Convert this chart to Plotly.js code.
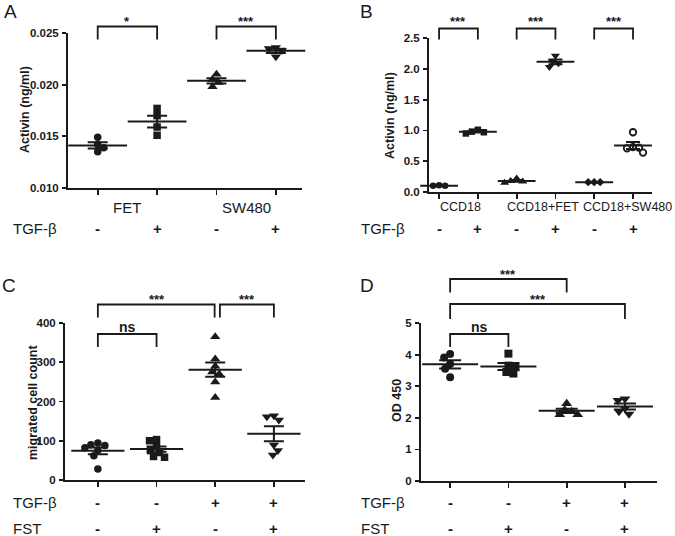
<!DOCTYPE html>
<html><head><meta charset="utf-8">
<script src="https://cdn.plot.ly/plotly-3.0.1.min.js"></script>
<style>html,body{margin:0;padding:0;background:#fff}#chart{width:675px;height:536px}</style>
</head><body><div id="chart"></div>
<script>
// ---------- Panel A ----------
const aCategories = ['FET', 'SW480'];
const aTGF = ['-', '+', '-', '+'];
const aFetMinus = [0.0149, 0.0142, 0.0139, 0.0135];
const aFetPlus = [0.0177, 0.0170, 0.0159, 0.0151];
const aSwMinus = [0.0210, 0.0205, 0.0202, 0.0198];
const aSwPlus = [0.0236, 0.0235, 0.0233, 0.0227];
const aSig = ['*', '***'];
const aYTicks = [0.010, 0.015, 0.020, 0.025];
const aYTitle = 'Activin (ng/ml)';

// ---------- Panel B ----------
const bCategories = ['CCD18', 'CCD18+FET', 'CCD18+SW480'];
const bTGF = ['-', '+', '-', '+', '-', '+'];
const bCcdMinus = [0.11, 0.10, 0.10, 0.09];
const bCcdPlus = [1.01, 0.98, 0.97, 0.95];
const bFetMinus = [0.22, 0.18, 0.17, 0.15];
const bFetPlus = [2.21, 2.12, 2.09, 2.03];
const bSwMinus = [0.16, 0.16, 0.16];
const bSwPlus = [0.97, 0.73, 0.72, 0.71, 0.64];
const bSig = ['***', '***', '***'];
const bYTicks = [0, 0.5, 1.0, 1.5, 2.0, 2.5];
const bYTitle = 'Activin (ng/ml)';

// ---------- Panel C ----------
const cTGF = ['-', '-', '+', '+'];
const cFST = ['-', '+', '-', '+'];
const cCtrl = [94, 90, 88, 82, 76, 62, 28];
const cFst = [103, 100, 85, 75, 70, 60, 58];
const cTgf = [365, 308, 290, 275, 270, 250, 210];
const cTgfFst = [164, 161, 153, 89, 75, 64];
const cSig = ['***', '***', 'ns'];
const cYTicks = [0, 100, 200, 300, 400];
const cYTitle = 'migrated cell count';

// ---------- Panel D ----------
const dTGF = ['-', '-', '+', '+'];
const dFST = ['-', '+', '-', '+'];
const dCtrl = [4.02, 3.91, 3.70, 3.55, 3.28];
const dFst = [4.03, 3.65, 3.60, 3.45, 3.40];
const dTgf = [2.45, 2.25, 2.20, 2.10, 2.10];
const dTgfFst = [2.60, 2.55, 2.30, 2.20, 2.12];
const dSig = ['***', '***', 'ns'];
const dYTicks = [0, 1, 2, 3, 4, 5];
const dYTitle = 'OD 450';

// ---------- helpers ----------
const W = 675, H = 536;
const INK = '#1a1a1a';
const FONT = 'Arial, "Liberation Sans", Helvetica, sans-serif';
const PX = p => p / W;
const PY = p => 1 - p / H;
const B = t => '<b>' + t + '</b>';

function mean(a) { return a.reduce((s, v) => s + v, 0) / a.length; }
function sem(a) {
  const m = mean(a);
  const sd = Math.sqrt(a.reduce((s, v) => s + (v - m) * (v - m), 0) / (a.length - 1));
  return sd / Math.sqrt(a.length);
}
// simple beeswarm: horizontal offsets (in category units) avoiding heavy overlap
function swarm(vals, pxPerY, pxPerX, d) {
  const placed = [];
  return vals.map(v => {
    const y = v * pxPerY;
    for (let k = 0; k < 60; k++) {
      const cands = k === 0 ? [0] : (placed.length % 2 ? [-k, k] : [k, -k]);
      for (const x of cands) {
        if (placed.every(p => Math.hypot(p.x - x, p.y - y) >= d)) {
          placed.push({x, y});
          return x / pxPerX;
        }
      }
    }
    return 0;
  });
}

const panels = [
  {box: {l: 68, r: 302, t: 33, b: 188}, xr: [-0.5, 3.44], yr: [0.010, 0.025], yticks: aYTicks, fmt: v => v.toFixed(3),
   groups: [aFetMinus, aFetPlus, aSwMinus, aSwPlus], symbols: ['circle', 'square', 'triangle-up', 'triangle-down'],
   msize: 7.5, meanW: 42, capW: 10, sep: 6.5},
  {box: {l: 429, r: 652, t: 38, b: 192}, xr: [-0.26, 5.49], yr: [0, 2.5], yticks: bYTicks, fmt: v => v.toFixed(1),
   groups: [bCcdMinus, bCcdPlus, bFetMinus, bFetPlus, bSwMinus, bSwPlus],
   symbols: ['circle', 'square', 'triangle-up', 'triangle-down', 'diamond', 'circle-open'],
   msize: 6.5, meanW: 27, capW: 7, sep: 6},
  {box: {l: 65, r: 305, t: 323, b: 480}, xr: [-0.56, 3.53], yr: [0, 400], yticks: cYTicks, fmt: v => String(v),
   groups: [cCtrl, cFst, cTgf, cTgfFst], symbols: ['circle', 'square', 'triangle-up', 'triangle-down'],
   msize: 7.5, meanW: 38, capW: 10, sep: 6.5},
  {box: {l: 421, r: 657, t: 323, b: 481}, xr: [-0.5, 3.55], yr: [0, 5], yticks: dYTicks, fmt: v => String(v),
   groups: [dCtrl, dFst, dTgf, dTgfFst], symbols: ['circle', 'square', 'triangle-up', 'triangle-down'],
   msize: 8, meanW: 40, capW: 11, sep: 6.5}
];

const traces = [];
const layout = {
  width: W, height: H, margin: {l: 0, r: 0, t: 0, b: 0},
  paper_bgcolor: '#fff', plot_bgcolor: '#fff', showlegend: false,
  font: {family: FONT, color: INK}, annotations: [], shapes: []
};

panels.forEach((p, i) => {
  const s = i === 0 ? '' : String(i + 1);
  const pxX = (p.box.r - p.box.l) / (p.xr[1] - p.xr[0]);
  const pxY = (p.box.b - p.box.t) / (p.yr[1] - p.yr[0]);
  p.groups.forEach((vals, g) => {
    const offs = swarm(vals, pxY, pxX, p.sep);
    const open = p.symbols[g].endsWith('open');
    traces.push({
      type: 'scatter', mode: 'markers', xaxis: 'x' + s, yaxis: 'y' + s,
      x: offs.map(o => g + o), y: vals, cliponaxis: false, hoverinfo: 'y',
      marker: {symbol: p.symbols[g], size: p.symbols[g].startsWith('triangle') ? p.msize + 1.5 : p.msize,
               color: INK, line: {width: open ? 1.8 : 0, color: INK}}
    });
  });
  traces.push({
    type: 'scatter', mode: 'markers', xaxis: 'x' + s, yaxis: 'y' + s, cliponaxis: false,
    x: p.groups.map((_, g) => g), y: p.groups.map(mean), hoverinfo: 'y',
    marker: {symbol: 'line-ew', size: p.meanW, color: INK, line: {width: 2, color: INK}},
    error_y: {type: 'data', array: p.groups.map(sem), visible: true, width: p.capW, thickness: 2, color: INK}
  });
  layout['xaxis' + s] = {
    domain: [PX(p.box.l), PX(p.box.r)], range: p.xr, anchor: 'y' + s,
    showline: true, linecolor: INK, linewidth: 2, ticks: 'outside', ticklen: 5, tickwidth: 1.8, tickcolor: INK,
    tickvals: p.groups.map((_, g) => g), ticktext: p.groups.map(() => ''),
    showgrid: false, zeroline: false, fixedrange: true
  };
  layout['yaxis' + s] = {
    domain: [PY(p.box.b), PY(p.box.t)], range: p.yr, anchor: 'x' + s,
    showline: true, linecolor: INK, linewidth: 2, ticks: 'outside', ticklen: 4, tickwidth: 1.8, tickcolor: INK,
    tickvals: p.yticks, ticktext: p.yticks.map(v => B(p.fmt(v))), ticklabelstandoff: 1,
    tickfont: {size: 11.5, family: FONT, color: INK},
    showgrid: false, zeroline: false, fixedrange: true
  };
});

const ann = layout.annotations, shp = layout.shapes;
function txt(text, x, y, opts) {
  ann.push(Object.assign({text, x, y, xref: 'paper', yref: 'paper', showarrow: false,
    xanchor: 'center', yanchor: 'middle', font: {size: 15, family: FONT, color: INK}}, opts || {}));
}
function dat(text, xref, x, y, font) {
  ann.push({text, x, xref, y: PY(y), yref: 'paper', showarrow: false, xanchor: 'center', yanchor: 'middle', font});
}
function bracket(xref, x0, x1, yTop, yLeg) {
  shp.push({type: 'path', xref, yref: 'paper',
    path: `M${x0},${PY(yLeg)} L${x0},${PY(yTop)} L${x1},${PY(yTop)} L${x1},${PY(yLeg)}`,
    line: {color: INK, width: 1.8}});
}
const starFont = {size: 13, family: FONT, color: INK};
const nsFont = {size: 14, family: FONT, color: INK};
const signFont = {size: 15, family: FONT, color: INK};
const catFont = {size: 15, family: FONT, color: INK};

// panel letters
txt('A', PX(10), PY(12), {font: {size: 19, family: FONT, color: INK}});
txt('B', PX(366), PY(12), {font: {size: 19, family: FONT, color: INK}});
txt('C', PX(9), PY(285), {font: {size: 19, family: FONT, color: INK}});
txt('D', PX(367), PY(285), {font: {size: 19, family: FONT, color: INK}});

// y titles
[[aYTitle, 25, 110], [bYTitle, 390, 115], [cYTitle, 33, 403], [dYTitle, 397, 401]].forEach(([t, x, y]) =>
  txt(B(t), PX(x), PY(y), {textangle: -90, font: {size: 12.5, family: FONT, color: INK}}));

// Panel A labels
aCategories.forEach((c, k) => dat(c, 'x', 2 * k + 0.5, 207, catFont));
aTGF.forEach((sg, k) => dat(B(sg), 'x', k, 228, signFont));
txt('TGF-β', PX(11), PY(228), {xanchor: 'left'});
aSig.forEach((sg, k) => {
  bracket('x', 2 * k, 2 * k + 1, 26.5, 39.5);
  dat(B(sg), 'x', 2 * k + 0.5, 21, starFont);
});

// Panel B labels
const bLabelX = [0.54, 2.68, 4.86];
bCategories.forEach((c, k) => dat(c, 'x2', bLabelX[k], 207, {size: 12.5, family: FONT, color: INK}));
bTGF.forEach((sg, k) => dat(B(sg), 'x2', k, 228, signFont));
txt('TGF-β', PX(359), PY(228), {xanchor: 'left'});
bSig.forEach((sg, k) => {
  bracket('x2', 2 * k, 2 * k + 1, 28.5, 39.5);
  dat(B(sg), 'x2', 2 * k + 0.5, 21, starFont);
});

// Panel C labels
cTGF.forEach((sg, k) => dat(B(sg), 'x3', k, 502, signFont));
cFST.forEach((sg, k) => dat(B(sg), 'x3', k, 528, signFont));
txt('TGF-β', PX(11), PY(502), {xanchor: 'left'});
txt('FST', PX(11), PY(528), {xanchor: 'left'});
bracket('x3', 0, 1.99, 304.5, 317.5);
dat(B(cSig[0]), 'x3', 1, 299, starFont);
bracket('x3', 2.08, 3, 304.5, 317.5);
dat(B(cSig[1]), 'x3', 2.54, 299, starFont);
bracket('x3', 0, 1, 334, 347);
dat(B(cSig[2]), 'x3', 0.5, 327, nsFont);

// Panel D labels
dTGF.forEach((sg, k) => dat(B(sg), 'x4', k, 502, signFont));
dFST.forEach((sg, k) => dat(B(sg), 'x4', k, 528, signFont));
txt('TGF-β', PX(359), PY(502), {xanchor: 'left'});
txt('FST', PX(359), PY(528), {xanchor: 'left'});
bracket('x4', 0, 2, 279, 292.5);
dat(B(dSig[0]), 'x4', 1, 274, starFont);
bracket('x4', 0, 3, 304, 319);
dat(B(dSig[1]), 'x4', 1.5, 299, starFont);
bracket('x4', 0, 1, 334, 347);
dat(B(dSig[2]), 'x4', 0.5, 327, nsFont);

Plotly.newPlot('chart', traces, layout, {staticPlot: true, displayModeBar: false});
</script>
</body></html>
